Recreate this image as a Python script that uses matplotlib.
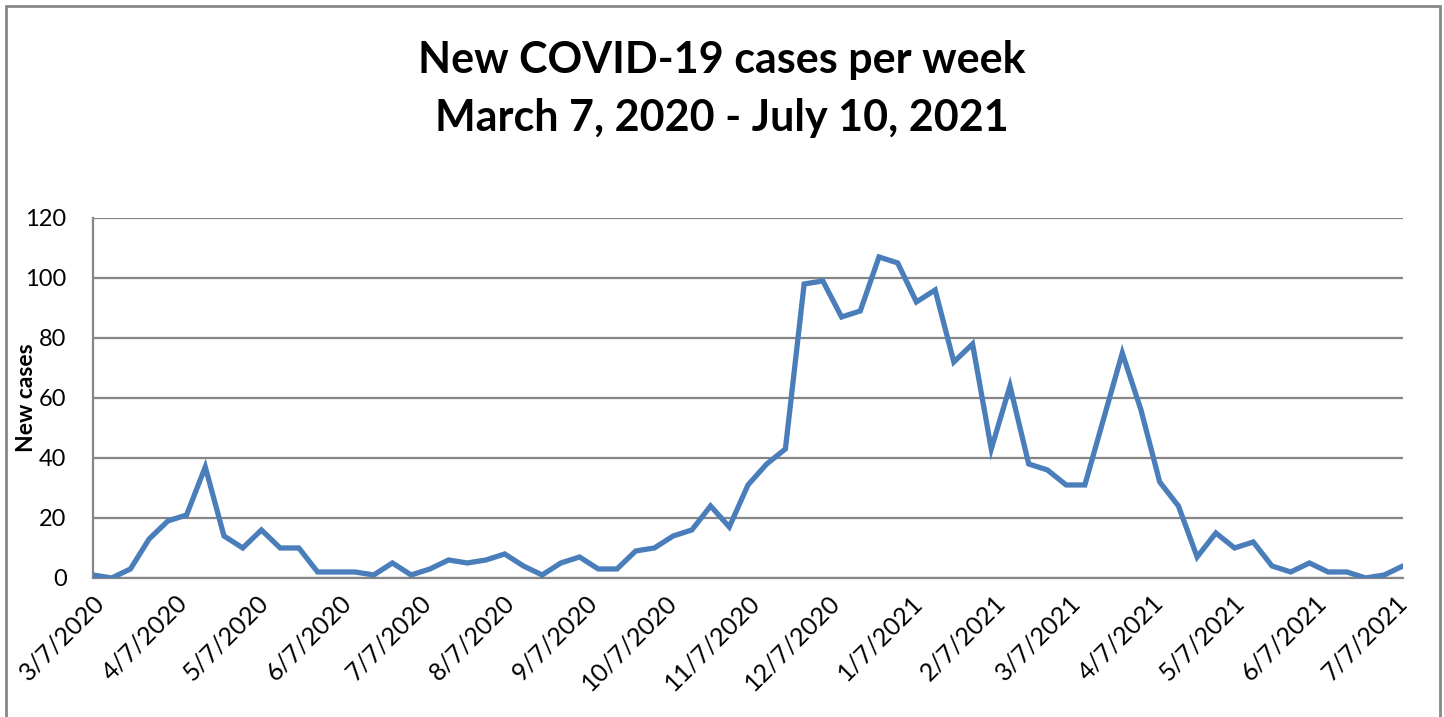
import pandas as pd
import numpy as np
import matplotlib
matplotlib.use("Agg")
import matplotlib.pyplot as plt
from matplotlib.patches import Rectangle

plt.rcParams['font.family'] = ['Lato', 'DejaVu Sans']

# weekly new cases, week ending 3/7/2020 through 7/10/2021
week_start = "2020-03-07"
new_cases = [1, 0, 3, 13, 19, 21, 37, 14, 10, 16,
             10, 10, 2, 2, 2, 1, 5, 1, 3, 6,
             5, 6, 8, 4, 1, 5, 7, 3, 3, 9,
             10, 14, 16, 24, 17, 31, 38, 43, 98, 99,
             87, 89, 107, 105, 92, 96, 72, 78, 43, 64,
             38, 36, 31, 31, 53, 75, 56, 32, 24, 7,
             15, 10, 12, 4, 2, 5, 2, 2, 0, 1, 4]
weeks = pd.date_range(week_start, periods=len(new_cases), freq="7D")

# monthly ticks on the 7th
tick_dates = pd.date_range("2020-03-01", "2021-07-01", freq="MS") + pd.Timedelta(days=6)
tick_labels = [f"{d.month}/{d.day}/{d.year}" for d in tick_dates]
y_ticks = [0, 20, 40, 60, 80, 100, 120]

fig = plt.figure(figsize=(14.44, 7.17), dpi=100)
ax = fig.add_axes([0.0644, 0.1939, 0.9072, 0.5021])

grid_col = '#868686'
for yv in y_ticks:
    ax.axhline(yv, color=grid_col, linewidth=1.6, zorder=1)

ax.plot(weeks, new_cases, color='#4A7EBB', linewidth=3.8, zorder=3,
        solid_joinstyle='miter')

ax.set_xlim(weeks[0], weeks[-1])
ax.set_ylim(0, 120)
ax.set_yticks(y_ticks)
ax.set_yticklabels([str(v) for v in y_ticks], fontsize=17)
ax.set_xticks(tick_dates)
ax.set_xticklabels(tick_labels, fontsize=18, rotation=45, ha='right', va='top',
                   rotation_mode='anchor')
ax.tick_params(axis='both', length=0)
ax.tick_params(axis='y', pad=19)
ax.tick_params(axis='x', pad=9)

for s in ['top', 'right']:
    ax.spines[s].set_visible(False)
ax.spines['left'].set_color(grid_col)
ax.spines['left'].set_linewidth(1.6)
ax.spines['bottom'].set_color(grid_col)
ax.spines['bottom'].set_linewidth(1.6)

fig.text(27 / 1444, 1 - 398 / 717, 'New cases', rotation=90, ha='center',
         va='center', fontsize=16.5, fontweight='bold')

fig.text(0.5, 0.916, 'New COVID-19 cases per week', ha='center', va='center',
         fontsize=31, fontweight='bold')
fig.text(0.5, 0.835, 'March 7, 2020 - July 10, 2021', ha='center', va='center',
         fontsize=31, fontweight='bold')

# outer chart border
border = Rectangle((6 / 1444, -0.05), (1440 - 6) / 1444, 1.05 - 6 / 717,
                   transform=fig.transFigure, fill=False, edgecolor='#878787',
                   linewidth=2, clip_on=False)
fig.patches.append(border)

fig.savefig('out.png', dpi=100, facecolor='white')
